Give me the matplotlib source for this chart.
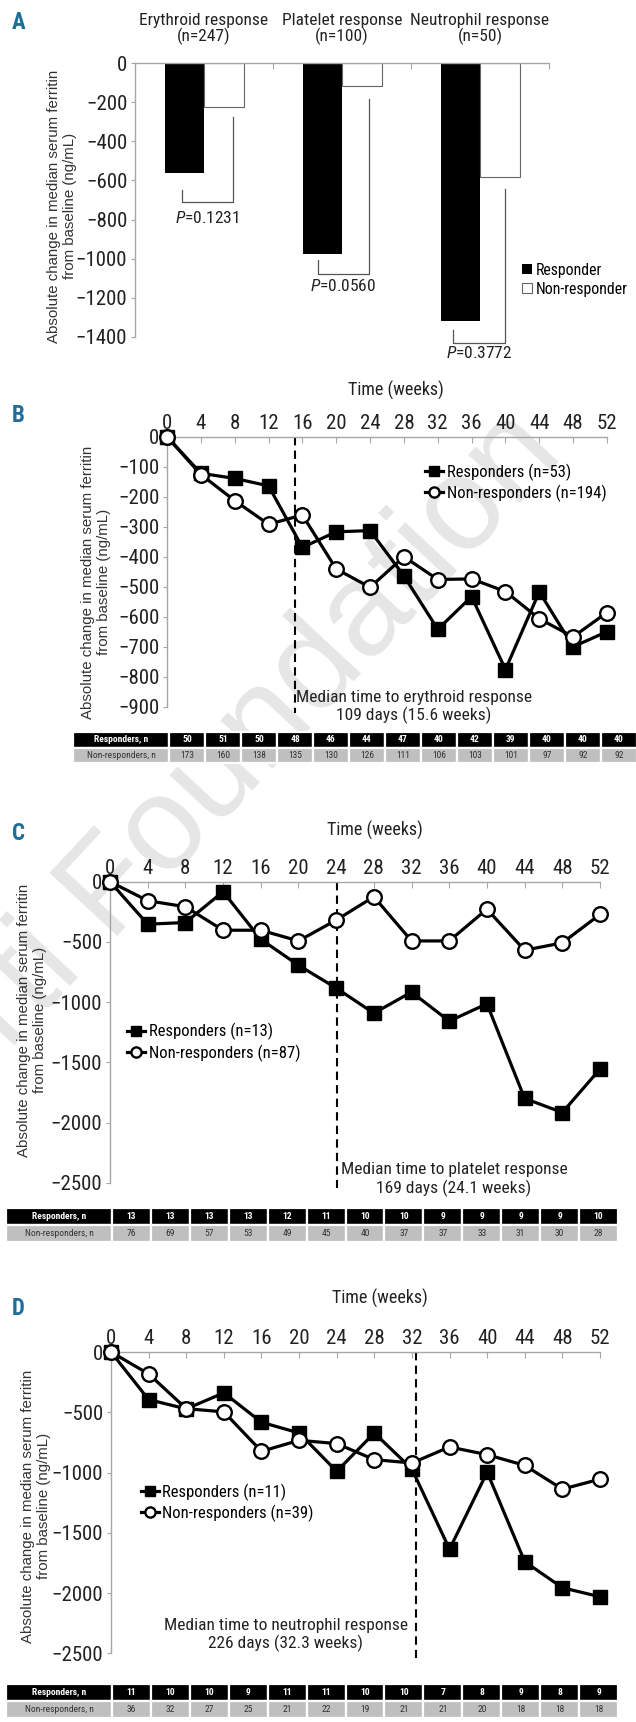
import numpy as np
import matplotlib.pyplot as plt
from matplotlib import font_manager as fm

# pick a condensed face if one is installed
names = {f.name for f in fm.fontManager.ttflist}
cond_dejavu = any(f.name == 'DejaVu Sans' and f.stretch == 'condensed' for f in fm.fontManager.ttflist)
FAM, STRETCH, FS, TS = 'Liberation Sans', 'normal', 11.5, 12.5
if 'Liberation Sans Narrow' in names:
    FAM, STRETCH, FS, TS = 'Liberation Sans Narrow', 'normal', 12.8, 14.5
elif 'Roboto Condensed' in names:
    FAM, STRETCH, FS, TS = 'Roboto Condensed', 'normal', 12.5, 15
elif cond_dejavu:
    FAM, STRETCH, FS, TS = 'DejaVu Sans', 'condensed', 12, 14

plt.rcParams['font.family'] = [FAM, 'DejaVu Sans']
plt.rcParams['font.stretch'] = STRETCH
plt.rcParams['mathtext.fontset'] = 'custom'
plt.rcParams['mathtext.rm'] = FAM
plt.rcParams['mathtext.it'] = FAM + ':italic'

W, H = 636, 1722
GRID = '#a6a6a6'
BLUE = '#1f6e98'
TXT = '#222222'

# ---- data ----
# panel A
cat_labels = ['Erythroid response\n(n=247)', 'Platelet response\n(n=100)', 'Neutrophil response\n(n=50)']
resp_change = [-563, -977, -1320]
nonresp_change = [-225, -114, -584]
p_values = ['0.1231', '0.0560', '0.3772']

weeks = [0, 4, 8, 12, 16, 20, 24, 28, 32, 36, 40, 44, 48, 52]

# panel B (erythroid)
b_resp = [0, -122, -139, -164, -369, -317, -313, -464, -642, -533, -776, -517, -700, -650]
b_non = [0, -126, -213, -292, -261, -441, -502, -400, -476, -474, -516, -607, -667, -586]
b_resp_n = [50, 51, 50, 48, 46, 44, 47, 40, 42, 39, 40, 40, 40]
b_non_n = [173, 160, 138, 135, 130, 126, 111, 106, 103, 101, 97, 92, 92]

# panel C (platelet)
c_resp = [0, -353, -339, -83, -478, -694, -883, -1092, -917, -1158, -1014, -1800, -1917, -1556]
c_non = [0, -158, -208, -403, -403, -492, -319, -125, -492, -492, -228, -569, -508, -272]
c_resp_n = [13, 13, 13, 13, 12, 11, 10, 10, 9, 9, 9, 9, 10]
c_non_n = [76, 69, 57, 53, 49, 45, 40, 37, 37, 33, 31, 30, 28]

# panel D (neutrophil)
d_resp = [0, -395, -472, -339, -583, -672, -990, -672, -971, -1636, -997, -1740, -1956, -2031]
d_non = [0, -182, -470, -497, -824, -733, -760, -893, -921, -788, -852, -941, -1138, -1055]
d_resp_n = [11, 10, 10, 9, 11, 11, 10, 10, 7, 8, 9, 8, 9]
d_non_n = [36, 32, 27, 25, 21, 22, 19, 21, 21, 20, 18, 18, 18]

ylabel = 'Absolute change in median serum ferritin\nfrom baseline (ng/mL)'


def rect(x0, y0, x1, y1):
    # pixel box (top-left origin) -> figure fraction rect
    return [x0 / W, 1 - y1 / H, (x1 - x0) / W, (y1 - y0) / H]


fig = plt.figure(figsize=(W / 100, H / 100), dpi=100)

# watermark
fig.text(565 / W, 1 - 455 / H, 'Ferrata Storti Foundation', family='Liberation Sans',
         stretch='normal', fontsize=96, color='#e6e6e6', rotation=47, rotation_mode='anchor',
         ha='right', va='baseline', zorder=-5)


def style_axes(ax):
    ax.set_facecolor('none')
    for s in ['right', 'bottom']:
        ax.spines[s].set_visible(False)
    for s in ['left', 'top']:
        ax.spines[s].set_color(GRID)
        ax.spines[s].set_linewidth(1.0)
    ax.xaxis.tick_top()
    ax.tick_params(axis='x', direction='in', length=4, color=GRID, labelsize=TS, pad=3,
                   labelcolor=TXT)
    ax.tick_params(axis='y', direction='out', length=3, color=GRID, labelsize=TS, pad=2.5,
                   labelcolor=TXT)


def ylab(x, y):
    fig.text(x / W, 1 - y / H, ylabel, family='Liberation Sans', stretch='normal', fontsize=10.8,
             rotation=90, ha='center', va='center', color='#333333', linespacing=1.1)


def letter(ch, y):
    fig.text(12 / W, 1 - y / H, ch, fontsize=16.5, fontweight='bold', color=BLUE, va='baseline')


# ---- panel A ----
ax = fig.add_axes(rect(135, 63.3, 549, 336.7))
style_axes(ax)
x = np.arange(len(cat_labels))
b1 = ax.bar(x - 0.14, resp_change, 0.285, color='black', label='Responder')
b2 = ax.bar(x + 0.145, nonresp_change, 0.285, color='white', edgecolor='#666666',
            linewidth=0.8, label='Non-responder')
ax.set_xlim(-0.5, 2.5)
ax.set_ylim(-1400, 0)
ax.set_xticks([0.5, 1.5, 2.5])
ax.set_xticklabels([])
ax.set_yticks(np.arange(-1400, 1, 200))
for i, lab in enumerate(cat_labels):
    ax.text(i, 1.125, lab, transform=ax.get_xaxis_transform(), ha='center', va='center',
            fontsize=FS, linespacing=0.95, color=TXT)

brackets = [(-0.16, 0.21, -649, -712, -276, -794),
            (0.826, 1.196, -1007, -1079, -181, -1140),
            (1.804, 2.18, -1366, -1434, -645, -1482)]
for (l, r, lt, bot, rt, ty), p in zip(brackets, p_values):
    ax.plot([l, l, r, r], [lt, bot, bot, rt], color='#555555', lw=0.9, clip_on=False)
    ax.text((l + r) / 2, ty, r'$\mathit{P}$=' + p, ha='center', va='center', fontsize=FS,
            color=TXT)

ax.legend(handles=[b1, b2], loc='center left', bbox_to_anchor=(0.935, 0.2085), frameon=False,
          fontsize=FS - 1.2, handlelength=0.6, handleheight=0.6, handletextpad=0.3,
          labelspacing=0.25, borderpad=0, borderaxespad=0)
ylab(62, 206)
letter('A', 29)


def line_panel(box, resp, non, ymin, ystep, med, med_bottom, med_text, text_xy,
               leg_labels, leg_anchor, title_xy):
    ax = fig.add_axes(rect(*box))
    style_axes(ax)
    ax.plot(weeks, resp, color='black', lw=2.3, marker='s', ms=10.5, mfc='black', mec='black',
            clip_on=False, zorder=4, label=leg_labels[0])
    ax.plot(weeks, non, color='black', lw=2.3, marker='o', ms=10.5, mfc='white', mec='black',
            mew=1.7, clip_on=False, zorder=5, label=leg_labels[1])
    ax.set_xlim(0, 52)
    ax.set_ylim(ymin, 0)
    ax.set_xticks(weeks)
    ax.set_yticks(np.arange(ymin, 1, ystep))
    ax.text(title_xy[0], title_xy[1], 'Time (weeks)', transform=ax.transAxes, ha='center',
            va='center', fontsize=FS + 0.5, color=TXT)
    ax.plot([med, med], [0, med_bottom], color='black', lw=1.5, dashes=(4, 2.5), clip_on=False)
    ax.text(text_xy[0], text_xy[1], med_text, ha='center', va='center', fontsize=FS,
            color=TXT)
    ax.legend(loc='center left', bbox_to_anchor=leg_anchor, frameon=False, fontsize=FS - 0.5,
              handlelength=1.1, handletextpad=0.2, labelspacing=0.25, markerscale=0.7,
              borderpad=0, borderaxespad=0)
    return ax


def n_table(box, label_w, resp_n, non_n):
    ax = fig.add_axes(rect(*box))
    ax.axis('off')
    ncol = len(resp_n)
    cells = [['Responders, n'] + [str(v) for v in resp_n],
             ['Non-responders, n'] + [str(v) for v in non_n]]
    colours = [['black'] * (ncol + 1), ['#bfbfbf'] * (ncol + 1)]
    total_w = box[2] - box[0]
    val_w = (total_w - label_w) / ncol
    tbl = ax.table(cellText=cells, cellColours=colours, cellLoc='center', bbox=[0, 0, 1, 1],
                   colWidths=[label_w / total_w] + [val_w / total_w] * ncol)
    tbl.auto_set_font_size(False)
    tbl.set_fontsize(6.8)
    for (r, c), cell in tbl.get_celld().items():
        cell.set_edgecolor('white')
        cell.set_linewidth(1.6)
        if r == 0:
            cell.get_text().set_color('white')
            cell.get_text().set_fontweight('bold')
        else:
            cell.get_text().set_color('#333333')
        if c == 0:
            cell._loc = 'left'
            cell.PAD = 0.06


line_panel((167, 436.7, 607, 706.7), b_resp, b_non, -900, 100, 15.1, -920,
           'Median time to erythroid response\n109 days (15.6 weeks)', (29.2, -901),
           ['Responders (n=53)', 'Non-responders (n=194)'], (0.586, 0.830), (0.52, 1.170))
ylab(96, 582)
letter('B', 421.7)
n_table((73, 731.7, 637, 763.3), 96, b_resp_n, b_non_n)

line_panel((110, 881.7, 600, 1182.7), c_resp, c_non, -2500, 500, 24.1, -2542,
           'Median time to platelet response\n169 days (24.1 weeks)', (36.5, -2471),
           ['Responders (n=13)', 'Non-responders (n=87)'], (0.035, 0.466), (0.541, 1.169))
ylab(32, 1020)
letter('C', 840)
n_table((6, 1207.7, 618, 1241.7), 106, c_resp_n, c_non_n)

line_panel((111, 1352, 600, 1653.3), d_resp, d_non, -2500, 500, 32.4, -2540,
           'Median time to neutrophil response\n226 days (32.3 weeks)', (18.6, -2348),
           ['Responders (n=11)', 'Non-responders (n=39)'], (0.061, 0.4995), (0.55, 1.179))
ylab(36, 1506)
letter('D', 1315)
n_table((6, 1684.3, 618, 1718.3), 106, d_resp_n, d_non_n)

fig.savefig('out.png', dpi=100)
